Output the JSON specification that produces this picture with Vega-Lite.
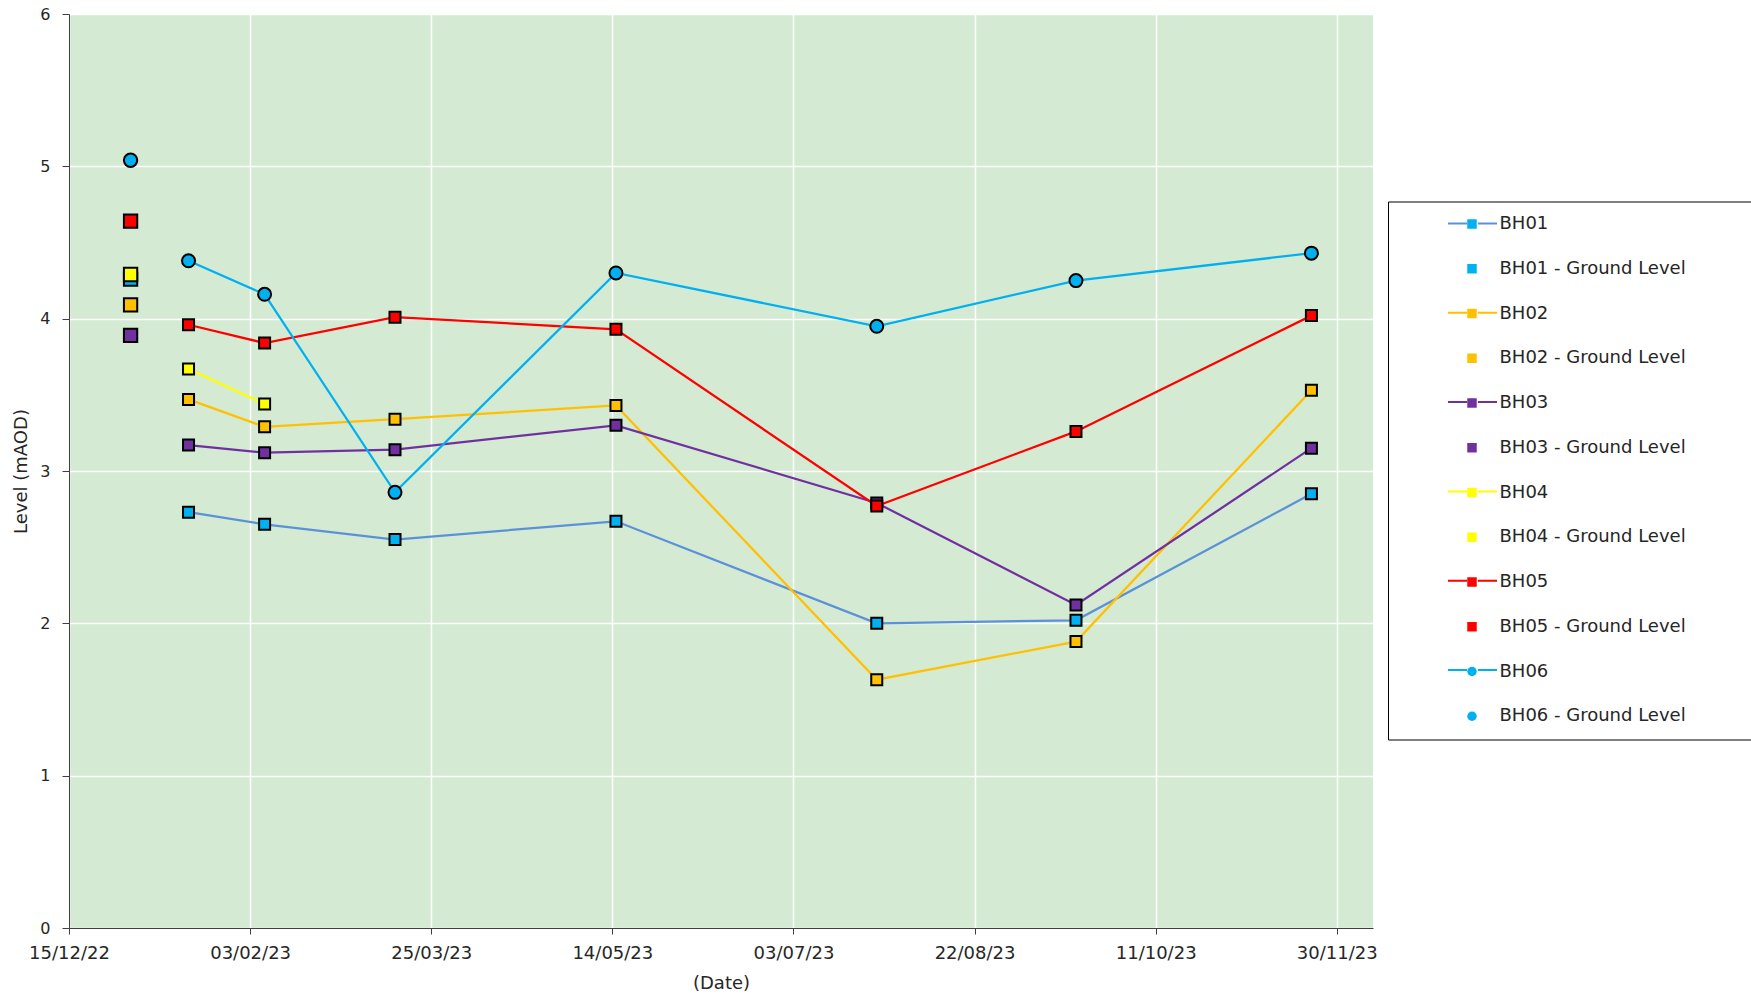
{
  "$schema": "https://vega.github.io/schema/vega-lite/v6.json",
  "width": 1304,
  "height": 914,
  "autosize": {"type": "none"},
  "padding": {"left": 69, "top": 14, "right": 378, "bottom": 72},
  "background": "white",
  "config": {
    "font": "DejaVu Sans",
    "view": {"fill": "#D5EAD3", "stroke": null},
    "axis": {
      "domainColor": "#404040",
      "tickColor": "#404040",
      "gridColor": "#FFFFFF",
      "gridWidth": 1.5,
      "gridOpacity": 1,
      "labelColor": "#262626",
      "titleColor": "#262626",
      "labelFont": "DejaVu Sans",
      "titleFont": "DejaVu Sans",
      "titleFontWeight": "normal"
    }
  },
  "data": {
    "values": [
      {"series": "BH01", "date": "2023-01-17", "level": 2.73},
      {"series": "BH01", "date": "2023-02-07", "level": 2.65},
      {"series": "BH01", "date": "2023-03-15", "level": 2.55},
      {"series": "BH01", "date": "2023-05-15", "level": 2.67},
      {"series": "BH01", "date": "2023-07-26", "level": 2.00},
      {"series": "BH01", "date": "2023-09-19", "level": 2.02},
      {"series": "BH01", "date": "2023-11-23", "level": 2.85},
      {"series": "BH01 - Ground Level", "date": "2023-01-01", "level": 4.26},
      {"series": "BH02", "date": "2023-01-17", "level": 3.47},
      {"series": "BH02", "date": "2023-02-07", "level": 3.29},
      {"series": "BH02", "date": "2023-03-15", "level": 3.34},
      {"series": "BH02", "date": "2023-05-15", "level": 3.43},
      {"series": "BH02", "date": "2023-07-26", "level": 1.63},
      {"series": "BH02", "date": "2023-09-19", "level": 1.88},
      {"series": "BH02", "date": "2023-11-23", "level": 3.53},
      {"series": "BH02 - Ground Level", "date": "2023-01-01", "level": 4.09},
      {"series": "BH03", "date": "2023-01-17", "level": 3.17},
      {"series": "BH03", "date": "2023-02-07", "level": 3.12},
      {"series": "BH03", "date": "2023-03-15", "level": 3.14},
      {"series": "BH03", "date": "2023-05-15", "level": 3.30},
      {"series": "BH03", "date": "2023-07-26", "level": 2.79},
      {"series": "BH03", "date": "2023-09-19", "level": 2.12},
      {"series": "BH03", "date": "2023-11-23", "level": 3.15},
      {"series": "BH03 - Ground Level", "date": "2023-01-01", "level": 3.89},
      {"series": "BH04", "date": "2023-01-17", "level": 3.67},
      {"series": "BH04", "date": "2023-02-07", "level": 3.44},
      {"series": "BH04 - Ground Level", "date": "2023-01-01", "level": 4.29},
      {"series": "BH05", "date": "2023-01-17", "level": 3.96},
      {"series": "BH05", "date": "2023-02-07", "level": 3.84},
      {"series": "BH05", "date": "2023-03-15", "level": 4.01},
      {"series": "BH05", "date": "2023-05-15", "level": 3.93},
      {"series": "BH05", "date": "2023-07-26", "level": 2.77},
      {"series": "BH05", "date": "2023-09-19", "level": 3.26},
      {"series": "BH05", "date": "2023-11-23", "level": 4.02},
      {"series": "BH05 - Ground Level", "date": "2023-01-01", "level": 4.64},
      {"series": "BH06", "date": "2023-01-17", "level": 4.38},
      {"series": "BH06", "date": "2023-02-07", "level": 4.16},
      {"series": "BH06", "date": "2023-03-15", "level": 2.86},
      {"series": "BH06", "date": "2023-05-15", "level": 4.30},
      {"series": "BH06", "date": "2023-07-26", "level": 3.95},
      {"series": "BH06", "date": "2023-09-19", "level": 4.25},
      {"series": "BH06", "date": "2023-11-23", "level": 4.43},
      {"series": "BH06 - Ground Level", "date": "2023-01-01", "level": 5.04}
    ]
  },
  "encoding": {
    "x": {
      "field": "date",
      "type": "temporal",
      "scale": {
        "type": "utc",
        "domain": [
          {"year": 2022, "month": 12, "date": 15, "utc": true},
          {"year": 2023, "month": 12, "date": 10, "utc": true}
        ]
      },
      "axis": {
        "title": "(Date)",
        "format": "%d/%m/%y",
        "values": [
          {"year": 2022, "month": 12, "date": 15, "utc": true},
          {"year": 2023, "month": 2, "date": 3, "utc": true},
          {"year": 2023, "month": 3, "date": 25, "utc": true},
          {"year": 2023, "month": 5, "date": 14, "utc": true},
          {"year": 2023, "month": 7, "date": 3, "utc": true},
          {"year": 2023, "month": 8, "date": 22, "utc": true},
          {"year": 2023, "month": 10, "date": 11, "utc": true},
          {"year": 2023, "month": 11, "date": 30, "utc": true}
        ],
        "labelFontSize": 18,
        "titleFontSize": 18,
        "tickSize": 6,
        "labelPadding": 10,
        "titlePadding": 12,
        "labelFlush": false,
        "labelOverlap": false
      }
    },
    "y": {
      "field": "level",
      "type": "quantitative",
      "scale": {"domain": [0, 6], "nice": false, "zero": true},
      "axis": {
        "title": "Level (mAOD)",
        "values": [0, 1, 2, 3, 4, 5, 6],
        "labelFontSize": 16,
        "titleFontSize": 18,
        "tickSize": 7,
        "labelPadding": 12,
        "titlePadding": 9
      }
    }
  },
  "layer": [
    {
      "transform": [{"filter": "indexof(datum.series, 'Ground') < 0"}],
      "mark": {"type": "line", "strokeWidth": 2.25},
      "encoding": {
        "stroke": {
          "field": "series",
          "type": "nominal",
          "scale": {
            "domain": ["BH01", "BH02", "BH03", "BH04", "BH05", "BH06"],
            "range": ["#5B91D8", "#FFC000", "#7030A0", "#FFFF00", "#FF0000", "#00B0F0"]
          },
          "legend": {
            "orient": "none",
            "legendX": 1378,
            "legendY": 184,
            "title": null,
            "padding": 0,
            "symbolType": "M-1,0H-0.22M0.22,0H1",
            "symbolSize": 2401,
            "symbolStrokeWidth": 2,
            "labelOpacity": 0,
            "labelFontSize": 18,
            "labelLimit": 400,
            "rowPadding": 54.3
          }
        }
      }
    },
    {
      "encoding": {
        "fill": {
          "field": "series",
          "type": "nominal",
          "scale": {
            "domain": ["BH01", "BH01 - Ground Level", "BH02", "BH02 - Ground Level", "BH03", "BH03 - Ground Level", "BH04", "BH04 - Ground Level", "BH05", "BH05 - Ground Level", "BH06", "BH06 - Ground Level"],
            "range": ["#00B0F0", "#00B0F0", "#FFC000", "#FFC000", "#7030A0", "#7030A0", "#FFFF00", "#FFFF00", "#FF0000", "#FF0000", "#00B0F0", "#00B0F0"]
          },
          "legend": {
            "orient": "none",
            "legendX": 1319,
            "legendY": 187.5,
            "title": null,
            "padding": 13.5,
            "strokeColor": "black",
            "symbolSize": 90,
            "symbolStrokeColor": "black",
            "symbolStrokeWidth": 1.5,
            "symbolOffset": 61.5,
            "labelOffset": 18.5,
            "labelFont": "DejaVu Sans",
            "labelFontSize": 18,
            "labelColor": "#262626",
            "labelLimit": 600,
            "labelExpr": "datum.label + '                              \u200b'",
            "rowPadding": 26.75
          }
        },
        "shape": {
          "field": "series",
          "type": "nominal",
          "scale": {
            "domain": ["BH01", "BH01 - Ground Level", "BH02", "BH02 - Ground Level", "BH03", "BH03 - Ground Level", "BH04", "BH04 - Ground Level", "BH05", "BH05 - Ground Level", "BH06", "BH06 - Ground Level"],
            "range": ["square", "square", "square", "square", "square", "square", "square", "square", "square", "square", "circle", "circle"]
          },
          "legend": {
            "orient": "none",
            "legendX": 1319,
            "legendY": 187.5,
            "title": null,
            "padding": 13.5,
            "strokeColor": "black",
            "symbolSize": 90,
            "symbolStrokeColor": "black",
            "symbolStrokeWidth": 1.5,
            "symbolOffset": 61.5,
            "labelOffset": 18.5,
            "labelFont": "DejaVu Sans",
            "labelFontSize": 18,
            "labelColor": "#262626",
            "labelLimit": 600,
            "labelExpr": "datum.label + '                              \u200b'",
            "rowPadding": 26.75
          }
        }
      },
      "layer": [
        {
          "transform": [{"filter": "indexof(datum.series, 'Ground') < 0 && datum.series != 'BH06'"}],
          "mark": {"type": "point", "filled": true, "stroke": "black", "strokeWidth": 2, "size": 121, "opacity": 1}
        },
        {
          "transform": [{"filter": "datum.series == 'BH06'"}],
          "mark": {"type": "point", "filled": true, "stroke": "black", "strokeWidth": 2, "size": 169, "opacity": 1}
        },
        {
          "transform": [{"filter": "indexof(datum.series, 'Ground') >= 0"}],
          "mark": {"type": "point", "filled": true, "stroke": "black", "strokeWidth": 2, "size": 177, "opacity": 1}
        }
      ]
    }
  ]
}
